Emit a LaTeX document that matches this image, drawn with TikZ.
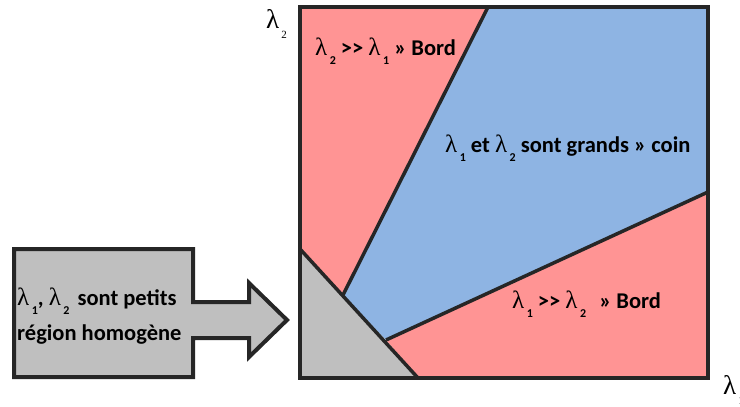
\documentclass[tikz,border=0pt]{standalone}
\usepackage{fontspec}
\setmainfont{Carlito}
\newfontfamily\lamfont{Liberation Serif}
\usetikzlibrary{positioning,calc}
\definecolor{bordred}{HTML}{FF9494}
\definecolor{coinblue}{HTML}{8EB4E3}
\definecolor{homgray}{HTML}{BFBFBF}
\definecolor{edgegray}{HTML}{262626}
\tikzset{
  cut/.style   ={draw=edgegray,line width=3.5pt},
  frame/.style ={draw=edgegray,line width=4pt,line join=miter},
  lbl/.style   ={font=\fontsize{22.5}{27}\selectfont\bfseries,inner sep=0pt,
                 anchor=base west},
  axlbl/.style ={font=\lamfont\fontsize{27}{27}\selectfont,inner sep=0pt,
                 anchor=base west},
}
\newcommand{\lam}[1]{{\lamfont\mdseries\fontsize{25}{25}\selectfont λ}\hspace{2.5pt}\raisebox{-9pt}{\fontsize{12}{12}\selectfont #1}}
\newcommand{\bigger}{>\kern0pt>}

\begin{document}
\begin{tikzpicture}[x=1pt,y=-1pt]
\useasboundingbox (0,0) rectangle (740,407);
% corners of the plane and cut points
\coordinate (tl) at (300,7);  \coordinate (tr) at (708,7);
\coordinate (br) at (708,378); \coordinate (bl) at (300,378);
\coordinate (ua) at (488,7);  \coordinate (ub) at (343,295);
\coordinate (la) at (708,192); \coordinate (lb) at (386,340);
\coordinate (ga) at (300,249); \coordinate (gb) at (418,378);
% regions
\fill[bordred] (tl) -- (ua) -- (ub) -- (ga) -- cycle;
\fill[coinblue] (ua) -- (tr) -- (la) -- (lb) -- (ub) -- cycle;
\fill[bordred] (la) -- (br) -- (gb) -- (lb) -- cycle;
\fill[homgray] (ga) -- (gb) -- (bl) -- cycle;
\draw[cut] (ua) -- (ub); \draw[cut] (la) -- (lb); \draw[cut] (ga) -- (gb);
\draw[frame] (tl) rectangle (br);
% block arrow
\draw[frame,fill=homgray] (14,249) -- (193,249) -- (193,302) -- (249,302)
  -- (249,283) -- (287,320) -- (249,357) -- (249,338) -- (193,338)
  -- (193,377) -- (14,377) -- cycle;
% labels
\node[lbl] (bordhaut) at (315,55) {\lam{2} \bigger\ \lam{1} » Bord};
\node[lbl] (coin) at (445,152) {\lam{1} et \lam{2} sont grands » coin};
\node[lbl] (bordbas) at (512,308) {\lam{1} \bigger\ \lam{2}\hspace{8pt} » Bord};
\node[lbl] (petits) at (17,305) {\lam{1}, \lam{2}\hspace{3pt} sont petits};
\node[lbl] (homog) at (17,340) {région homogène};
\node[axlbl] (axe2) at (266,28) {λ\hspace{2pt}\raisebox{-10pt}{\fontsize{11}{11}\selectfont 2}};
\node[axlbl] (axe1) at (723,394) {λ\hspace{2pt}\raisebox{-10pt}{\fontsize{11}{11}\selectfont 1}};
\end{tikzpicture}
\end{document}
